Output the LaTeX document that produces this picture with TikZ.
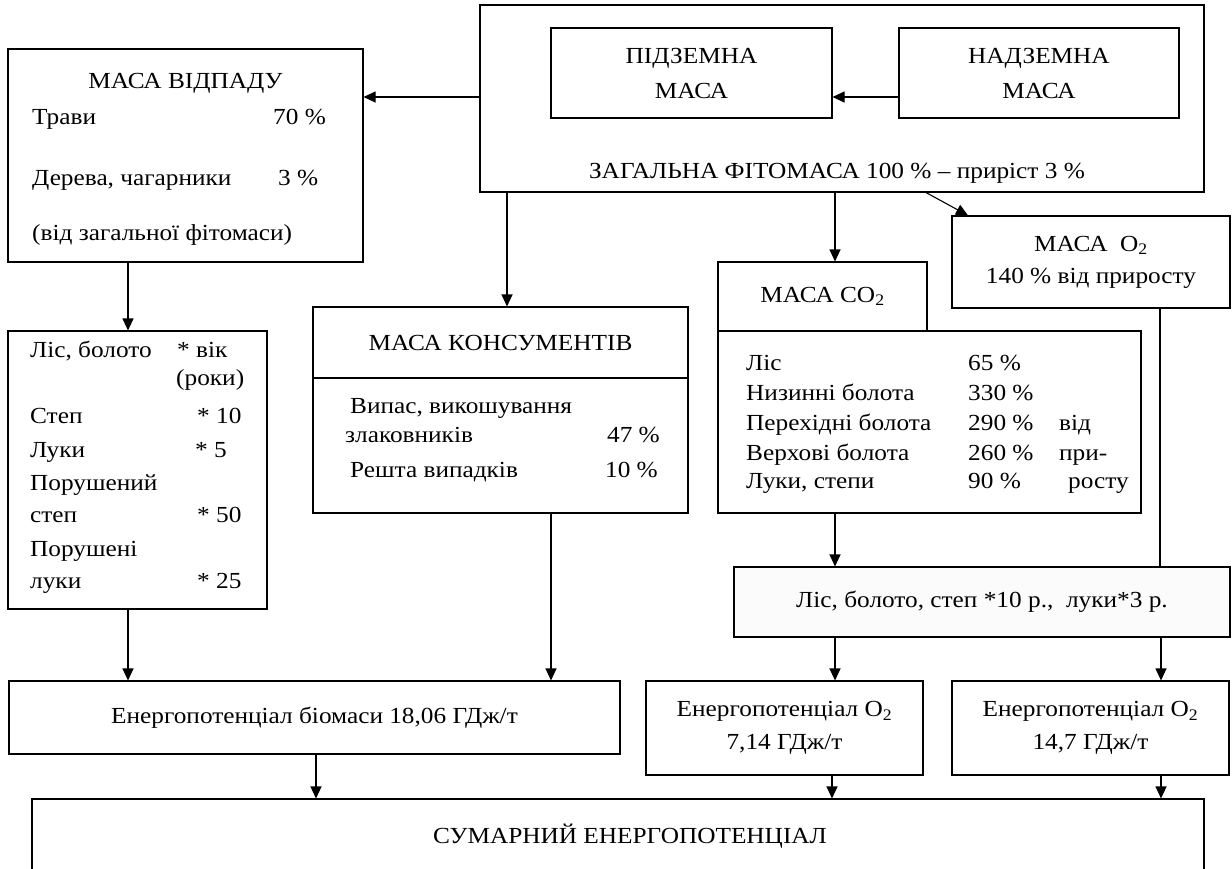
\documentclass[tikz,border=0pt]{standalone}
\usepackage{fontspec}
\setmainfont{Liberation Serif}[FakeStretch=1.1]
\usetikzlibrary{arrows.meta}

\tikzset{
	box/.style={draw, line width=1.1pt, inner sep=0pt, align=center},
	txt/.style={inner sep=0pt, anchor=base west},
	ctxt/.style={inner sep=0pt, anchor=base},
	rtxt/.style={inner sep=0pt, anchor=base east},
	arr/.style={-{Triangle[length=12pt,width=11pt]}, line width=1.1pt},
	ln/.style={line width=1.1pt},
}

\begin{document}
\begin{tikzpicture}[x=1pt, y=-1pt, font=\fontsize{23}{29}\selectfont]
	\useasboundingbox (0,0) rectangle (1232,868);
	\clip (0,0) rectangle (1232,868);
	% top row
	\node[box, minimum width=355, minimum height=213] (vidpad) at (185.5,155.5) {};
	\node[box, minimum width=724, minimum height=187] (total) at (842,98.5) {};
	\node[box, minimum width=281, minimum height=90] (pidz) at (691.5,73) {ПІДЗЕМНА\\[6pt]МАСА};
	\node[box, minimum width=280, minimum height=90] (nadz) at (1039,73) {НАДЗЕМНА\\[6pt]МАСА};
	\node[ctxt] (totaltxt) at (837,178) {ЗАГАЛЬНА ФІТОМАСА 100 \% – приріст 3 \%};
	\node[ctxt] (vidpadtxt) at (185.5,88) {МАСА ВІДПАДУ};
	\node[txt] (trav) at (32,124) {Трави};
	\node[txt] (travp) at (273,124) {70 \%};
	\node[txt] (derev) at (32,185) {Дерева, чагарники};
	\node[txt] (derevp) at (278,185) {3 \%};
	\node[txt] (vidzag) at (32,240) {(від загальної фітомаси)};
	% middle row
	\node[box, minimum width=259, minimum height=278] (vik) at (137.5,470) {};
	\node[txt] (vik1) at (30,357) {Ліс, болото};
	\node[txt] (vik1r) at (177,357) {* вік};
	\node[txt] (vik2r) at (176,385) {(роки)};
	\node[txt] (vik3) at (30,423) {Степ};
	\node[txt] (vik3r) at (197,423) {* 10};
	\node[txt] (vik4) at (30,457) {Луки};
	\node[txt] (vik4r) at (195,457) {* 5};
	\node[txt] (vik5) at (30,490) {Порушений};
	\node[txt] (vik6) at (30,522) {степ};
	\node[txt] (vik6r) at (197,522) {* 50};
	\node[txt] (vik7) at (30,556) {Порушені};
	\node[txt] (vik8) at (30,588) {луки};
	\node[txt] (vik8r) at (197,588) {* 25};

	\node[box, minimum width=375, minimum height=71] (konshead) at (500.5,342.5) {МАСА КОНСУМЕНТІВ};
	\node[box, minimum width=375, minimum height=135] (konsbody) at (500.5,445.5) {};
	\node[txt] (kons1) at (350,413) {Випас, викошування};
	\node[txt] (kons2) at (345,442) {злаковників};
	\node[rtxt] (kons2p) at (660,442) {47 \%};
	\node[txt] (kons3) at (350,477) {Решта випадків};
	\node[rtxt] (kons3p) at (658,477) {10 \%};

	\node[box, minimum width=209, minimum height=69] (co2head) at (822.5,296.5) {МАСА CO\textsubscript{2}};
	\node[box, minimum width=423, minimum height=182] (co2body) at (929.5,422) {};
	\node[txt] (co21) at (746,370) {Ліс};
	\node[txt] (co21p) at (968,370) {65 \%};
	\node[txt] (co22) at (746,400) {Низинні болота};
	\node[txt] (co22p) at (968,400) {330 \%};
	\node[txt] (co23) at (746,430) {Перехідні болота};
	\node[txt] (co23p) at (968,430) {290 \%};
	\node[txt] (co23r) at (1059,430) {від};
	\node[txt] (co24) at (746,460) {Верхові болота};
	\node[txt] (co24p) at (968,460) {260 \%};
	\node[txt] (co24r) at (1059,460) {при-};
	\node[txt] (co25) at (746,488) {Луки, степи};
	\node[txt] (co25p) at (968,488) {90 \%};
	\node[txt] (co25r) at (1068,488) {росту};

	\node[box, minimum width=278, minimum height=92] (o2mass) at (1091,262) {МАСА\ \ O\textsubscript{2}\\[3pt]140 \% від приросту};
	\node[box, minimum width=496, minimum height=70, fill=gray!3] (lisstep) at (982,602) {Ліс, болото, степ *10 р., \ луки*3 р.};
	% bottom row
	\node[box, minimum width=611, minimum height=73] (biomasa) at (314.5,717.5) {Енергопотенціал біомаси 18,06 ГДж/т};
	\node[box, minimum width=277, minimum height=94] (energ1) at (784.5,728) {Енергопотенціал O\textsubscript{2}\\[4pt]7,14 ГДж/т};
	\node[box, minimum width=277, minimum height=94] (energ2) at (1090.5,728) {Енергопотенціал O\textsubscript{2}\\[4pt]14,7 ГДж/т};
	\node[box, minimum width=1172, minimum height=72] (sum) at (618,835) {};
	\node[ctxt] (sumtxt) at (630,843) {СУМАРНИЙ ЕНЕРГОПОТЕНЦІАЛ};

	% connectors
	\draw[arr] ([yshift=-24pt]nadz.west) -- ([yshift=-24pt]pidz.east);
	\draw[arr] ([yshift=1.5pt]total.west) -- ([yshift=1.5pt]total.west -| vidpad.east);
	\draw[arr] ([xshift=6.5pt]konshead.north |- total.south) -- ([xshift=6.5pt]konshead.north);
	\draw[arr] ([xshift=12.5pt]co2head.north |- total.south) -- ([xshift=12.5pt]co2head.north);
	\draw[arr] ([xshift=84pt]total.south) -- ([xshift=-123pt]o2mass.north);
	\draw[arr] ([xshift=-9.5pt]vik.north |- vidpad.south) -- ([xshift=-9.5pt]vik.north);
	\draw[arr] ([xshift=-9.5pt]vik.south) -- ([xshift=-9.5pt]vik.south |- biomasa.north);
	\draw[arr] ([xshift=50.5pt]konsbody.south) -- ([xshift=50.5pt]konsbody.south |- biomasa.north);
	\draw[arr] ([xshift=12.5pt]co2head.north |- co2body.south) -- ([xshift=12.5pt]co2head.north |- lisstep.north);
	\draw[ln] ([xshift=69pt]o2mass.south) -- ([xshift=69pt]o2mass.south |- lisstep.north);
	\draw[arr] ([xshift=50.5pt]energ1.north |- lisstep.south) -- ([xshift=50.5pt]energ1.north);
	\draw[arr] ([xshift=70.5pt]energ2.north |- lisstep.south) -- ([xshift=70.5pt]energ2.north);
	\draw[arr] ([xshift=1.5pt]biomasa.south) -- ([xshift=1.5pt]biomasa.south |- sum.north);
	\draw[arr] ([xshift=47.5pt]energ1.south) -- ([xshift=47.5pt]energ1.south |- sum.north);
	\draw[arr] ([xshift=70.5pt]energ2.south) -- ([xshift=70.5pt]energ2.south |- sum.north);
\end{tikzpicture}
\end{document}
